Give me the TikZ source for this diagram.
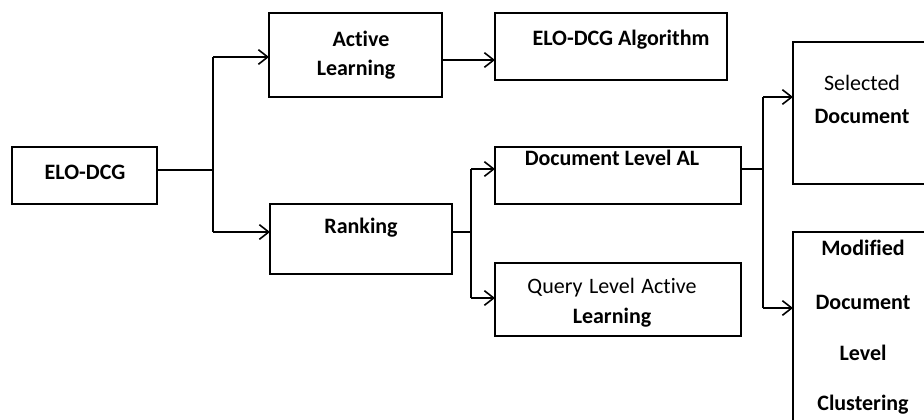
\documentclass[tikz,border=0pt]{standalone}
\usepackage{fontspec}
\setmainfont{Carlito}[Ligatures={NoCommon}]
\usetikzlibrary{arrows.meta}
\begin{document}
\begin{tikzpicture}[x=0.75pt, y=-0.75pt,
  box/.style={draw, line width=1.4pt, minimum width=#1, inner sep=0pt, outer sep=0pt},
  txt/.style={anchor=base, inner sep=0pt, font=\fontsize{16.5}{19}\selectfont\bfseries},
  lite/.style={anchor=base, inner sep=0pt, font=\fontsize{16.5}{19}\selectfont},
  link/.style={line width=1.4pt},
  arr/.style={line width=1.4pt, -{Straight Barb[length=7pt, width=11pt, line width=1.2pt]}}]
\useasboundingbox (0,0) rectangle (924,419);
\clip (0,0) rectangle (924,419);

% boxes (size in px converted to pt)
\node[box=108.75pt, minimum height=42.75pt] (elo)  at (84.5,175.5) {};
\node[box=129.75pt, minimum height=63pt]    (al)   at (355.5,55)   {};
\node[box=174pt,    minimum height=50.25pt] (alg)  at (611,46.5)   {};
\node[box=136.5pt,  minimum height=52.5pt]  (rank) at (361,239)    {};
\node[box=184.5pt,  minimum height=42.75pt] (dal)  at (618,175.5)  {};
\node[box=184.5pt,  minimum height=54.75pt] (qal)  at (618,299.5)  {};
\node[box=125.25pt, minimum height=106.5pt] (sel)  at (876.5,113)  {};
\node[box=125.25pt, minimum height=156pt]   (mod)  at (876.5,336)  {};

% labels
\node[txt] (t1) at (85,179) {ELO-DCG};
\node[txt] (t2) at (361,46) {Active};
\node[txt] (t3) at (356,75) {Learning};
\node[txt] (t4) at (621,45) {ELO-DCG Algorithm};
\node[txt] (t5) at (361,233) {Ranking};
\node[txt] (t6) at (612,165) {Document Level AL};
\node[lite] (t7) at (612,293) {Query\hspace{1.2pt} Level\hspace{1.2pt} Active};
\node[txt] (t8) at (612,323) {Learning};
\node[lite] (t9) at (862,90) {Selected};
\node[txt] (t10) at (862,123) {Document};
\node[txt] (t11) at (863,255) {Modified};
\node[txt] (t12) at (863,309) {Document};
\node[txt] (t13) at (863,360) {Level};
\node[txt] (t14) at (863,410) {Clustering};

% junction points of the branching connectors
\coordinate (j1)  at (213,170);
\coordinate (j1a) at (213,57);
\coordinate (j1b) at (213,232);
\coordinate (j2)  at (471,232);
\coordinate (j2a) at (471,169);
\coordinate (j2b) at (471,298);
\coordinate (j3)  at (763,169);
\coordinate (j3a) at (763,97);
\coordinate (j3b) at (763,308);
\coordinate (a1)  at (442,60);

% connectors
\draw[link] (j1 -| elo.east) -- (j1);
\draw[link] (j1a) -- (j1b);
\draw[arr] (j1a) -- (j1a -| al.west);
\draw[arr] (j1b) -- (j1b -| rank.west);
\draw[arr] (a1 -| al.east) -- (a1 -| alg.west);

\draw[link] (j2 -| rank.east) -- (j2);
\draw[link] (j2a) -- (j2b);
\draw[arr] (j2a) -- (j2a -| dal.west);
\draw[arr] (j2b) -- (j2b -| qal.west);

\draw[link] (j3 -| dal.east) -- (j3);
\draw[link] (j3a) -- (j3b);
\draw[arr] (j3a) -- (j3a -| sel.west);
\draw[arr] (j3b) -- (j3b -| mod.west);
\end{tikzpicture}
\end{document}
